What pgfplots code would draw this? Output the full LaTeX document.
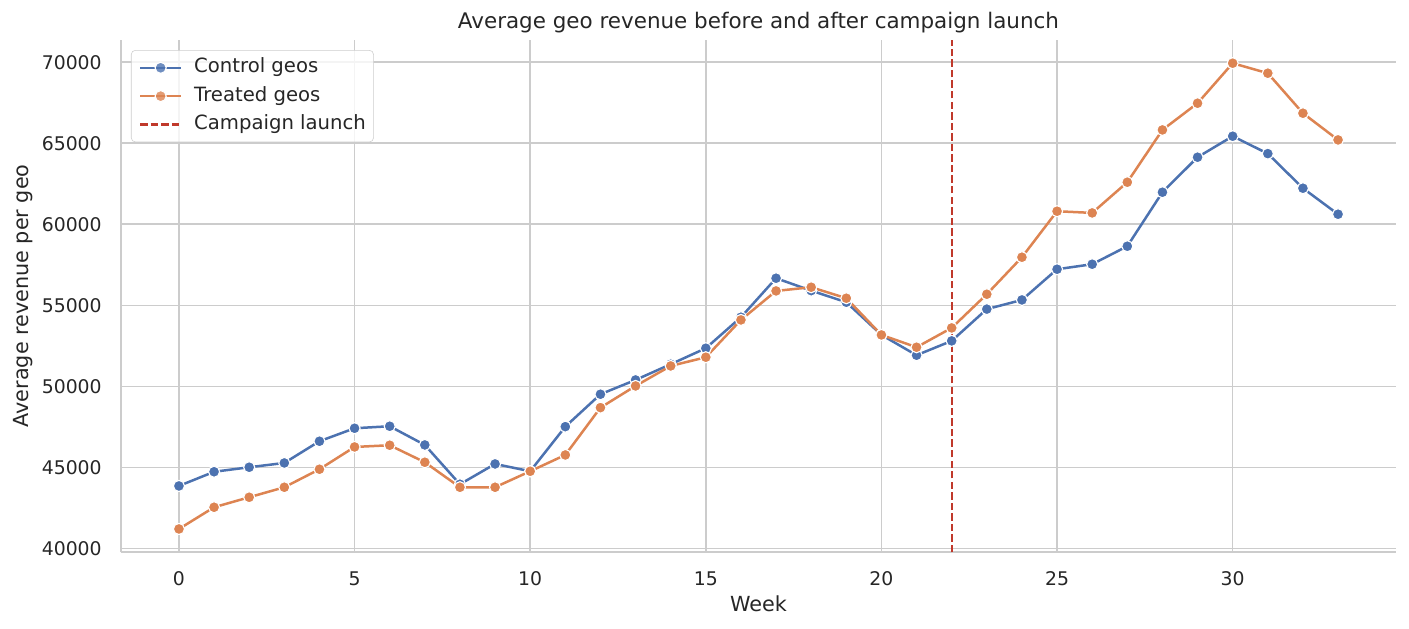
\documentclass[border=0pt]{standalone}
\usepackage{fontspec}
\setmainfont{DejaVu Sans}
\usepackage{pgfplots}
\pgfplotsset{compat=1.18}
\definecolor{cblue}{HTML}{4C72B0}
\definecolor{corange}{HTML}{DD8452}
\definecolor{cred}{HTML}{C0392B}
\definecolor{gridc}{HTML}{CCCCCC}
\definecolor{txt}{HTML}{262626}
\begin{document}
\begin{tikzpicture}
\useasboundingbox (-87.12bp,-55.22bp) rectangle (927.36bp,397.66bp);
\begin{axis}[
  at={(0,0)}, anchor=south west,
  scale only axis, width=918bp, height=369.2bp,
  xmin=-1.65, xmax=34.65, ymin=39750, ymax=71400,
  xtick={0,5,...,30}, ytick={40000,45000,...,70000},
  scaled y ticks=false, scaled x ticks=false,
  grid=major, major grid style={gridc, line width=1.05bp},
  axis x line*=bottom, axis y line*=left,
  axis line style={gridc, line width=1.4bp, -},
  major tick length=0pt,
  tick label style={font=\fontsize{13.6}{16}\selectfont, text=txt},
  /pgf/number format/assume math mode=true,
  /pgf/number format/1000 sep={},
  xticklabel style={anchor=north, inner sep=0pt, yshift=-14bp},
  yticklabel style={anchor=east, inner sep=0pt, xshift=-13.7bp},
  title={Average geo revenue before and after campaign launch},
  title style={at={(axis description cs:0.5,1.0049)}, anchor=base, font=\fontsize{15.5}{18}\selectfont, text=txt, inner sep=0pt},
  xlabel={Week}, ylabel={Average revenue per geo},
  xlabel style={at={(axis description cs:0.5,-0.1159)}, anchor=base, font=\fontsize{15}{18}\selectfont, text=txt, inner sep=0pt},
  ylabel style={at={(axis description cs:-0.0725,0.5)}, anchor=base, font=\fontsize{15}{18}\selectfont, text=txt, inner sep=0pt},
  legend style={at={(axis description cs:0.00784,0.9795)}, anchor=north west, draw=gridc, rounded corners=3bp, fill=white, fill opacity=0.8, text opacity=1, inner xsep=5.5bp, inner ysep=5.6bp, row sep=6.4bp, font=\fontsize{14.2}{17}\selectfont, text=txt, nodes={inner sep=0pt, text height=10.5bp, text depth=3.5bp}},
  legend cell align=left,
  legend image code/.code={\draw[mark repeat=2,mark phase=2] plot coordinates {(0bp,0bp) (14.75bp,0bp) (29.5bp,0bp)}; \path (38bp,0bp);},
]
\addplot[cblue, line width=1.8bp, mark=*, mark size=4bp, mark options={draw=white, line width=0.8bp, fill=cblue, solid}] coordinates {
(0,43846) (1,44722) (2,45000) (3,45265) (4,46605) (5,47407) (6,47531) (7,46377) (8,43950) (9,45204)
(10,44753) (11,47506) (12,49506) (13,50389) (14,51358) (15,52346) (16,54259) (17,56667) (18,55901) (19,55185)
(20,53167) (21,51914) (22,52800) (23,54760) (24,55327) (25,57222) (26,57531) (27,58642) (28,61975) (29,64136)
(30,65432) (31,64358) (32,62222) (33,60617)};
\addlegendentry{Control geos}
\addplot[corange, line width=1.8bp, mark=*, mark size=4bp, mark options={draw=white, line width=0.8bp, fill=corange, solid}] coordinates {
(0,41191) (1,42531) (2,43148) (3,43765) (4,44877) (5,46253) (6,46358) (7,45309) (8,43765) (9,43765)
(10,44753) (11,45759) (12,48679) (13,50019) (14,51253) (15,51790) (16,54093) (17,55883) (18,56111) (19,55432)
(20,53167) (21,52407) (22,53600) (23,55679) (24,57963) (25,60802) (26,60698) (27,62593) (28,65821) (29,67469)
(30,69938) (31,69321) (32,66852) (33,65204)};
\addlegendentry{Treated geos}
\addplot[cred, line width=1.5bp, dash pattern=on 5.3bp off 2.3bp] coordinates {(22,39750) (22,71400)};
\addlegendentry{Campaign launch}
\end{axis}
\end{tikzpicture}
\end{document}
